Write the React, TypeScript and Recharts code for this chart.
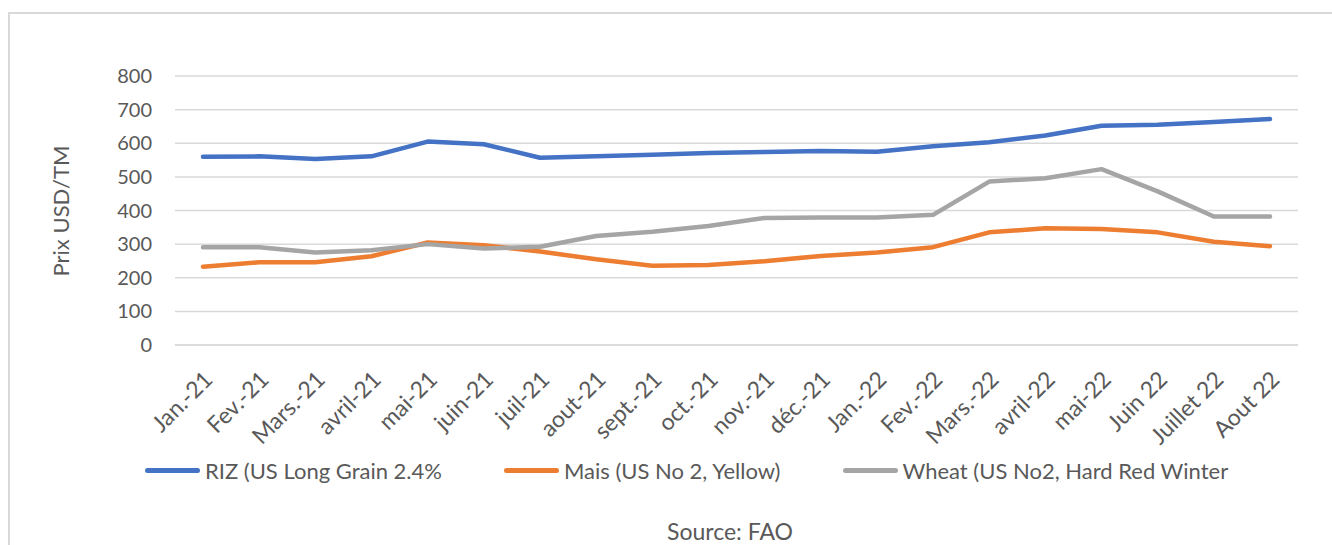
import { LineChart, Line, XAxis, YAxis, CartesianGrid, Legend } from 'recharts';

// monthly prices, USD per tonne (FAO)
const months = [
  'Jan.-21', 'Fev.-21', 'Mars.-21', 'avril-21', 'mai-21', 'juin-21', 'juil-21',
  'aout-21', 'sept.-21', 'oct.-21', 'nov.-21', 'déc.-21', 'Jan.-22', 'Fev.-22',
  'Mars.-22', 'avril-22', 'mai-22', 'Juin 22', 'Juillet 22', 'Aout 22',
];
const riz = [560, 561, 553, 561, 605, 597, 557, 561, 566, 571, 574, 577, 575, 591, 603, 623, 652, 655, 663, 672];
const mais = [233, 246, 246, 264, 305, 297, 278, 255, 236, 238, 249, 265, 275, 291, 335, 347, 345, 335, 307, 294];
const wheat = [291, 291, 275, 282, 300, 287, 292, 324, 337, 354, 378, 379, 379, 387, 486, 496, 523, 457, 382, 382];

const seriesKeys = ['riz', 'mais', 'wheat'];
const seriesNames = ['RIZ (US Long Grain 2.4%', 'Mais (US No 2, Yellow)', 'Wheat (US No2, Hard Red Winter'];
const seriesColors = ['#4472C4', '#ED7D31', '#A5A5A5'];
const yTicks = [0, 100, 200, 300, 400, 500, 600, 700, 800];

const data = months.map((month, i) => ({ month, riz: riz[i], mais: mais[i], wheat: wheat[i] }));

const FONT = 'Lato, "Open Sans", sans-serif';
const TEXT = '#595959';

function MonthTick({ x, y, payload }: any) {
  return (
    <text
      transform={`translate(${x + 11}, ${y + 34}) rotate(-45)`}
      textAnchor="end"
      fontFamily={FONT}
      fontSize={23}
      fill={TEXT}
    >
      {payload.value}
    </text>
  );
}

function BottomLegend() {
  return (
    <div style={{ position: 'relative', height: 90, fontFamily: FONT, color: TEXT }}>
      <div style={{ position: 'absolute', left: 145, top: 2, display: 'flex', gap: 62 }}>
        {seriesNames.map((name, i) => (
          <div key={name} style={{ display: 'flex', alignItems: 'center', fontSize: 22, whiteSpace: 'nowrap' }}>
            <span style={{ display: 'inline-block', width: 55, height: 5, borderRadius: 3, background: seriesColors[i], marginRight: 5 }} />
            {name}
          </div>
        ))}
      </div>
      <div style={{ position: 'absolute', left: 0, width: 1460, top: 62, textAlign: 'center', fontSize: 23 }}>
        Source: FAO
      </div>
    </div>
  );
}

export default function App() {
  return (
    <div style={{ position: 'fixed', left: 0, top: 0, width: 1332, height: 545, overflow: 'hidden', background: '#fff' }}>
      {/* chart frame, runs off the right and bottom edges */}
      <div style={{ position: 'absolute', left: 8, top: 12, width: 1400, height: 600, border: '2px solid #d9d9d9' }} />
      <div style={{ position: 'absolute', left: 0, top: 0 }}>
        <LineChart width={1332} height={545} data={data} margin={{ top: 76, right: 34, left: 0, bottom: 0 }}>
          <CartesianGrid vertical={false} stroke="#d9d9d9" strokeWidth={1.5} />
          <XAxis
            dataKey="month"
            interval={0}
            padding={{ left: 28, right: 28 }}
            axisLine={{ stroke: '#d9d9d9', strokeWidth: 1.5 }}
            tickLine={false}
            tickSize={0}
            height={110}
            tick={<MonthTick />}
          />
          <YAxis
            domain={[0, 800]}
            ticks={yTicks}
            width={175}
            axisLine={false}
            tickLine={false}
            tickSize={0}
            tickMargin={23}
            tick={{ fontFamily: FONT, fontSize: 20, fill: TEXT }}
            label={{
              content: () => (
                <text
                  transform="translate(69, 211) rotate(-90)"
                  textAnchor="middle"
                  fontFamily={FONT}
                  fontSize={22}
                  fill={TEXT}
                >
                  Prix USD/TM
                </text>
              ),
            }}
          />
          <Legend verticalAlign="bottom" content={<BottomLegend />} wrapperStyle={{ left: 0, width: 1332 }} />
          {seriesKeys.map((key, i) => (
            <Line
              key={key}
              dataKey={key}
              name={seriesNames[i]}
              stroke={seriesColors[i]}
              strokeWidth={4.5}
              strokeLinecap="round"
              strokeLinejoin="round"
              dot={false}
              type="linear"
              isAnimationActive={false}
            />
          ))}
        </LineChart>
      </div>
    </div>
  );
}
